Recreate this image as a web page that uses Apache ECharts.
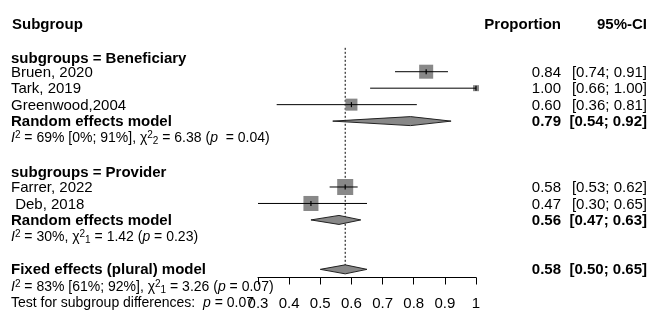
<!DOCTYPE html>
<html>
<head>
<meta charset="utf-8">
<script src="https://cdn.jsdelivr.net/npm/echarts@6/dist/echarts.min.js"></script>
<style>
  html, body { margin: 0; padding: 0; background: #fff; }
  #chart { width: 669px; height: 323px; }
</style>
</head>
<body>
<div id="chart"></div>
<script>
// studies
var studyNames = ['Bruen, 2020', 'Tark, 2019', 'Greenwood,2004', 'Farrer, 2022', ' Deb, 2018'];
var studyRows = [1, 2, 3, 8, 9];
var studyEst = [0.84, 1.00, 0.60, 0.58, 0.47];
var studyLow = [0.74, 0.66, 0.36, 0.53, 0.30];
var studyHigh = [0.91, 1.00, 0.81, 0.62, 0.65];
var studyWeight = [22.9, 4.2, 16.8, 29.9, 26.3];

// pooled models
var modelNames = ['Random effects model', 'Random effects model', 'Fixed effects (plural) model'];
var modelRows = [4, 10, 13];
var modelEst = [0.79, 0.56, 0.58];
var modelLow = [0.54, 0.47, 0.50];
var modelHigh = [0.92, 0.63, 0.65];

// subgroup headings + heterogeneity lines
var groupNames = ['subgroups = Beneficiary', 'subgroups = Provider'];
var groupRows = [0.15, 7.1];
var headRow = -1.9;
var statLines = [
  '{i|I}{sup|2} = 69% [0%; 91%], \u03c7{sup|2}{sub|2} = 6.38 ({i|p}  = 0.04)',
  '{i|I}{sup|2} = 30%, \u03c7{sup|2}{sub|1} = 1.42 ({i|p} = 0.23)',
  '{i|I}{sup|2} = 83% [61%; 92%], \u03c7{sup|2}{sub|1} = 3.26 ({i|p} = 0.07)',
  'Test for subgroup differences:  {i|p} = 0.07'
];
var statRows = [5, 11, 14, 15];

var xTicks = [0.3, 0.4, 0.5, 0.6, 0.7, 0.8, 0.9, 1.0];

var FONT = '"Liberation Sans", Arial, sans-serif';
var colLeft = 11, colProp = 561, colCI = 647;

function fmt(v) { return v.toFixed(2); }
function ci(lo, hi) { return '[' + fmt(lo) + '; ' + fmt(hi) + ']'; }

// text table rows: [row, x, align, text, bold, size, rich]
var textRows = [];
textRows.push([headRow, 12, 'left', 'Subgroup', true, 15, false]);
textRows.push([headRow, colProp, 'right', 'Proportion', true, 15, false]);
textRows.push([headRow, colCI, 'right', '95%-CI', true, 15, false]);
groupNames.forEach(function (n, i) { textRows.push([groupRows[i], colLeft, 'left', n, true, 15, false]); });
studyNames.forEach(function (n, i) {
  textRows.push([studyRows[i], colLeft, 'left', n, false, 15, false]);
  textRows.push([studyRows[i], colProp, 'right', fmt(studyEst[i]), false, 15, false]);
  textRows.push([studyRows[i], colCI, 'right', ci(studyLow[i], studyHigh[i]), false, 15, false]);
});
modelNames.forEach(function (n, i) {
  textRows.push([modelRows[i], colLeft, 'left', n, true, 15, false]);
  textRows.push([modelRows[i], colProp, 'right', fmt(modelEst[i]), true, 15, false]);
  textRows.push([modelRows[i], colCI, 'right', ci(modelLow[i], modelHigh[i]), true, 15, false]);
});
statLines.forEach(function (s, i) { textRows.push([statRows[i], colLeft, 'left', s, false, 14, true]); });

var myChart = echarts.init(document.getElementById('chart'));

var option = {
  backgroundColor: '#fff',
  animation: false,
  grid: { left: 258, right: 193, top: 40, bottom: 45.5 },
  xAxis: {
    type: 'value', min: 0.3, max: 1.0, interval: 0.1,
    splitLine: { show: false },
    axisLine: { onZero: false, lineStyle: { color: '#000', width: 1 } },
    axisTick: { length: 7, lineStyle: { color: '#000' } },
    axisLabel: {
      color: '#000', fontSize: 15, fontFamily: FONT, margin: 19,
      formatter: function (v) { return String(Math.round(v * 10) / 10); }
    }
  },
  yAxis: { type: 'value', inverse: true, min: -0.925, max: 13.495, show: false },
  series: [
    {
      // reference line at the pooled fixed estimate
      type: 'custom',
      data: [[modelEst[2]]],
      renderItem: function (params, api) {
        var a = api.coord([api.value(0), -0.45]);
        var b = api.coord([api.value(0), 13]);
        return { type: 'line', shape: { x1: a[0], y1: a[1], x2: b[0], y2: b[1] },
          style: { stroke: '#000', lineWidth: 1, lineDash: [2, 2] } };
      }
    },
    {
      // study squares with CIs
      type: 'custom',
      data: studyNames.map(function (n, i) { return [studyEst[i], studyRows[i], studyLow[i], studyHigh[i], studyWeight[i]]; }),
      renderItem: function (params, api) {
        var c = api.coord([api.value(0), api.value(1)]);
        var lo = api.coord([api.value(2), api.value(1)]);
        var hi = api.coord([api.value(3), api.value(1)]);
        var s = 2.93 * Math.sqrt(api.value(4));
        return { type: 'group', children: [
          { type: 'rect', shape: { x: c[0] - s / 2, y: c[1] - s / 2, width: s, height: s }, style: { fill: '#888888' } },
          { type: 'line', shape: { x1: lo[0], y1: c[1], x2: hi[0], y2: c[1] }, style: { stroke: '#000', lineWidth: 1 } },
          { type: 'line', shape: { x1: c[0], y1: c[1] - 2.5, x2: c[0], y2: c[1] + 2.5 }, style: { stroke: '#000', lineWidth: 1.2 } }
        ] };
      }
    },
    {
      // pooled diamonds
      type: 'custom',
      data: modelNames.map(function (n, i) { return [modelEst[i], modelRows[i], modelLow[i], modelHigh[i]]; }),
      renderItem: function (params, api) {
        var c = api.coord([api.value(0), api.value(1)]);
        var lo = api.coord([api.value(2), api.value(1)]);
        var hi = api.coord([api.value(3), api.value(1)]);
        var h = 4.5;
        return { type: 'polygon', shape: { points: [[lo[0], c[1]], [c[0], c[1] - h], [hi[0], c[1]], [c[0], c[1] + h]] },
          style: { fill: '#888888', stroke: '#222', lineWidth: 1 } };
      }
    },
    {
      // text table
      type: 'custom',
      data: textRows.map(function (t, i) { return [0.3, t[0], i]; }),
      renderItem: function (params, api) {
        var t = textRows[api.value(2)];
        var y = api.coord([0.3, api.value(1)])[1] + 1;
        var style = {
          text: t[3], x: t[1], y: y, align: t[2], verticalAlign: 'middle',
          fill: '#000', fontFamily: FONT, fontSize: t[5], fontWeight: t[4] ? 'bold' : 'normal'
        };
        if (t[6]) {
          style.rich = {
            i: { fontStyle: 'italic', fontSize: 14, fontFamily: FONT, fill: '#000' },
            sup: { fontSize: 10, fontFamily: FONT, verticalAlign: 'top', lineHeight: 16, fill: '#000' },
            sub: { fontSize: 10, fontFamily: FONT, verticalAlign: 'bottom', lineHeight: 16, fill: '#000' }
          };
          style.lineHeight = 16;
        }
        return { type: 'text', x: 0, y: 0, style: style };
      }
    }
  ]
};
myChart.setOption(option);
</script>
</body>
</html>
